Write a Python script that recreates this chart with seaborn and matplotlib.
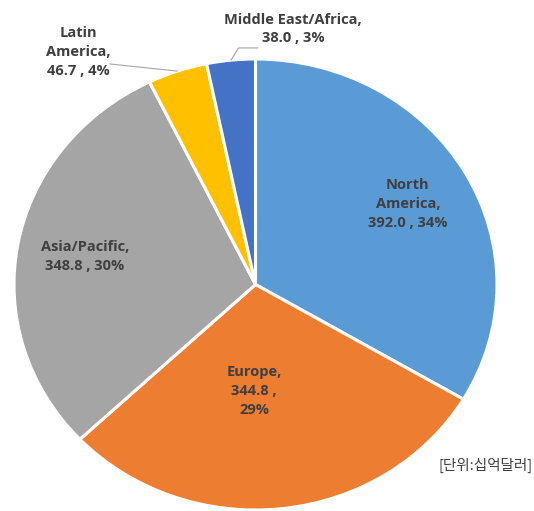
import matplotlib
matplotlib.use("Agg")
import matplotlib.pyplot as plt
import numpy as np
import seaborn as sns

# Market size by region (billion USD)
regions = ["North America", "Europe", "Asia/Pacific", "Latin America", "Middle East/Africa"]
values = [392.0, 344.8, 348.8, 46.7, 38.0]
shares = ["34%", "29%", "30%", "4%", "3%"]
label_texts = [
    "North\nAmerica,\n392.0 , 34%",
    "Europe,\n344.8 ,\n29%",
    "Asia/Pacific,\n348.8 , 30%",
    "Latin\nAmerica,\n46.7 , 4%",
    "Middle East/Africa,\n38.0 , 3%",
]
unit_note = "[단위:십억달러]"

sns.set_theme(style="white")
plt.rcParams["font.family"] = ["Open Sans", "DejaVu Sans"]

colors = sns.color_palette(["#5B9BD5", "#ED7D31", "#A5A5A5", "#FFC000", "#4472C4"])

fig = plt.figure(figsize=(5.34, 5.11), dpi=100)
ax = fig.add_axes([14 / 534, 1 / 511, 483 / 534, 451 / 511])

wedges, _ = ax.pie(
    values,
    colors=colors,
    startangle=90,
    counterclock=False,
    radius=1.0,
    wedgeprops=dict(edgecolor="white", linewidth=2.2),
)
ax.set_aspect("auto")
ax.set_xlim(-1, 1)
ax.set_ylim(-1, 1)
ax.axis("off")

# label anchor positions (data units of the unit pie)
label_pos = [
    (0.631, 0.357),
    (-0.006, -0.472),
    (-0.706, 0.126),
    (-0.735, 1.031),
    (0.155, 1.133),
]
text_color = "#3F3F3F"
for txt, (x, y) in zip(label_texts, label_pos):
    ax.text(x, y, txt, ha="center", va="center", fontsize=10.5, fontweight="bold",
            color=text_color, linespacing=1.45, clip_on=False)

# leader lines for the two small slices
def edge_point(w, r=1.0):
    mid = np.deg2rad((w.theta1 + w.theta2) / 2)
    return r * np.cos(mid), r * np.sin(mid)

lx, ly = edge_point(wedges[3], 1.0)
ax.plot([-0.603, lx], [0.978, ly], color="#A6A6A6", lw=0.8, clip_on=False)
mx, my = edge_point(wedges[4], 1.0)
ax.plot([mx, -0.07, 0.01], [my, 1.049, 1.049], color="#A6A6A6", lw=0.8, clip_on=False)

fig.text(533 / 534, 1 - 465 / 511, unit_note, ha="right", va="center", fontsize=10.5,
         color="#404040", family=["Noto Sans CJK KR", "DejaVu Sans"])

fig.savefig("out.png", dpi=100)
